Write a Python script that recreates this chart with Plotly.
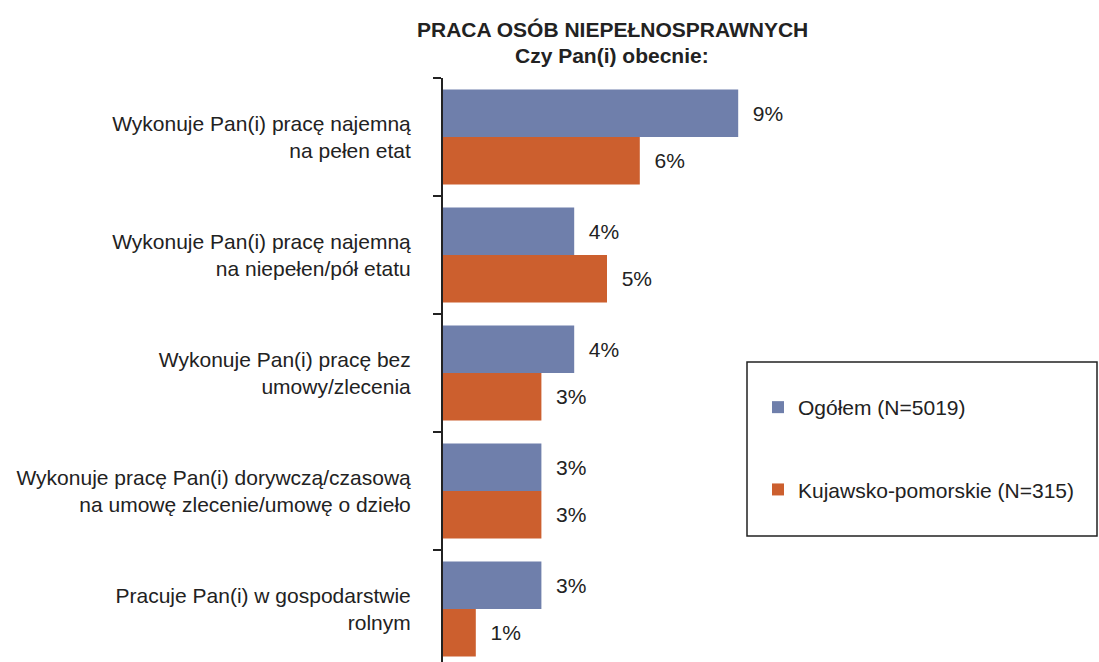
import plotly.graph_objects as go

categories = [
    "Wykonuje Pan(i) pracę najemną<br>na pełen etat",
    "Wykonuje Pan(i) pracę najemną<br>na niepełen/pół etatu",
    "Wykonuje Pan(i) pracę bez<br>umowy/zlecenia",
    "Wykonuje pracę Pan(i) dorywczą/czasową<br>na umowę zlecenie/umowę o dzieło",
    "Pracuje Pan(i) w gospodarstwie<br>rolnym",
]
ogolem = [9, 4, 4, 3, 3]
kujawsko = [6, 5, 3, 3, 1]
series_names = ["Ogółem (N=5019)", "Kujawsko-pomorskie (N=315)"]
title_lines = ["PRACA OSÓB NIEPEŁNOSPRAWNYCH", "Czy Pan(i) obecnie:"]

BLUE = "#6F7FAB"
ORANGE = "#CC5F2E"
TXT = "#222222"
FONT = "Liberation Sans, Arial, Helvetica, sans-serif"

fig = go.Figure()
for name, vals, col, grp in [
    (series_names[0], ogolem, BLUE, "g1"),
    (series_names[1], kujawsko, ORANGE, "g2"),
]:
    fig.add_trace(go.Bar(
        y=categories, x=vals, orientation="h", name=name,
        marker=dict(color=col, line=dict(width=0)),
        text=[f"\u00a0\u00a0{v}%" for v in vals],
        textposition="outside", cliponaxis=False,
        textfont=dict(size=21, color=TXT, family=FONT),
        legendgroup=grp,
    ))

# plot area extends slightly below the visible window, like the reference
W, H = 1099, 668
L, T, R, B = 443, 78, 0, 0
pw, ph = W - L - R, H - T - B

def px(x):
    return (x - L) / pw

def py(y):
    return (H - B - y) / ph

fig.update_layout(
    width=W, height=H,
    margin=dict(l=L, r=R, t=T, b=B, pad=0),
    paper_bgcolor="white", plot_bgcolor="white",
    barmode="group", bargap=0.195, bargroupgap=0,
    font=dict(family=FONT, size=21, color=TXT),
    showlegend=True,
    legend=dict(
        x=px(758), y=py(387), xanchor="left", yanchor="top",
        bgcolor="rgba(0,0,0,0)", borderwidth=0,
        tracegroupgap=52, traceorder="grouped",
        font=dict(size=21, color=TXT, family=FONT),
    ),
    xaxis=dict(range=[0, pw / 32.8], visible=False, fixedrange=True),
    yaxis=dict(
        autorange="reversed", showline=True, linecolor=TXT, linewidth=2,
        ticks="outside", tickson="boundaries", ticklen=8, tickwidth=1.5,
        tickcolor=TXT, showgrid=False, zeroline=False,
        ticklabelstandoff=26,
        tickfont=dict(size=21, color=TXT, family=FONT),
    ),
    shapes=[dict(
        type="rect", xref="paper", yref="paper",
        x0=px(747), x1=px(1097), y0=py(536), y1=py(362),
        line=dict(color=TXT, width=1.5), fillcolor="rgba(0,0,0,0)",
    )],
    annotations=[
        dict(text=f"<b>{title_lines[0]}</b>", xref="paper", yref="paper",
             x=px(612), y=py(29), xanchor="center", yanchor="middle",
             showarrow=False, font=dict(size=21, color=TXT, family=FONT)),
        dict(text=f"<b>{title_lines[1]}</b>", xref="paper", yref="paper",
             x=px(612), y=py(56), xanchor="center", yanchor="middle",
             showarrow=False, font=dict(size=21, color=TXT, family=FONT)),
    ],
)

fig.write_html(
    "out.html",
    config={"displayModeBar": False},
    post_script="document.body.style.margin='0';document.body.style.overflow='hidden';",
)
